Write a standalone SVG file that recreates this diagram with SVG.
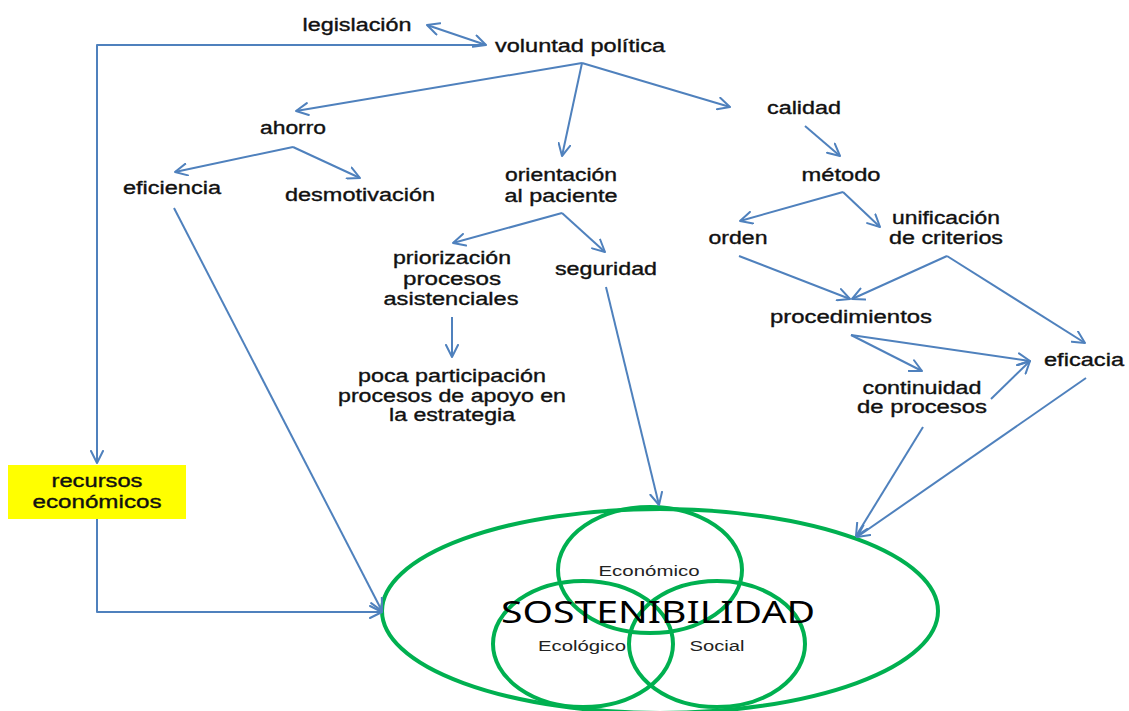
<svg xmlns="http://www.w3.org/2000/svg" width="1129" height="711" viewBox="0 0 1129 711">
  <style>
    .lbl { font-family: "Liberation Sans", Arial, sans-serif; font-size: 18px; fill: #111; stroke: #111; stroke-width: 0.35; text-anchor: middle; }
    .sub { font-family: "Liberation Sans", Arial, sans-serif; font-size: 14px; fill: #222; text-anchor: middle; }
    .big { font-family: "Noto Sans", "Open Sans", sans-serif; font-size: 30px; fill: #000; text-anchor: middle; }
    .edge { fill: none; stroke: #4F81BD; stroke-width: 2; stroke-linejoin: round; marker-end: url(#arr); }
    .ring { fill: none; stroke: #00B050; stroke-width: 4; }
  </style>
  <defs>
    <marker id="arr" viewBox="0 0 14 14" markerWidth="14" markerHeight="14" markerUnits="userSpaceOnUse" refX="13" refY="7" orient="auto-start-reverse">
      <path d="M1,1 L13,7 L1,13" fill="none" stroke="#4F81BD" stroke-width="2" stroke-linecap="round" stroke-linejoin="round"/>
    </marker>
  </defs>
  <rect width="1129" height="711" fill="#fff"/>

  <!-- sustainability rings -->
  <g id="sostenibilidad">
    <ellipse class="ring" cx="660" cy="611" rx="278" ry="102"/>
    <ellipse class="ring" cx="650" cy="570" rx="92" ry="63"/>
    <ellipse class="ring" cx="583" cy="644" rx="90" ry="63"/>
    <ellipse class="ring" cx="717" cy="644" rx="88" ry="63"/>
    <text class="sub" x="649" y="576" textLength="101" lengthAdjust="spacingAndGlyphs">Económico</text>
    <text class="big" x="658" y="623" textLength="314" lengthAdjust="spacingAndGlyphs">SOSTENIBILIDAD</text>
    <text class="sub" x="582" y="651" textLength="88" lengthAdjust="spacingAndGlyphs">Ecológico</text>
    <text class="sub" x="717" y="651" textLength="55" lengthAdjust="spacingAndGlyphs">Social</text>
  </g>

  <!-- connectors -->
  <g id="connectors">
    <path class="edge" d="M427,25 L486,45" marker-start="url(#arr)"/>
    <path class="edge" d="M486,45 L97,45 L97,463"/>
    <path class="edge" d="M97,519 L97,612 L382,612"/>
    <path class="edge" d="M174,208 L382,611"/>
    <path class="edge" d="M582,63 L296,111"/>
    <path class="edge" d="M582,63 L562,156"/>
    <path class="edge" d="M582,63 L730,107"/>
    <path class="edge" d="M293,147 L175,172"/>
    <path class="edge" d="M293,147 L360,178"/>
    <path class="edge" d="M805,126 L840,156"/>
    <path class="edge" d="M843,192 L740,221"/>
    <path class="edge" d="M843,192 L880,227"/>
    <path class="edge" d="M562,213 L453,243"/>
    <path class="edge" d="M562,213 L605,252"/>
    <path class="edge" d="M452,317 L452,357"/>
    <path class="edge" d="M606,287 L659,505"/>
    <path class="edge" d="M739,256 L850,299"/>
    <path class="edge" d="M947,256 L852,299"/>
    <path class="edge" d="M947,256 L1085,343"/>
    <path class="edge" d="M851,335 L922,371"/>
    <path class="edge" d="M851,335 L1030,361"/>
    <path class="edge" d="M991,399 L1030,361"/>
    <path class="edge" d="M923,427 L856,536"/>
    <path class="edge" d="M1086,378 L857,537"/>
  </g>

  <!-- concept nodes -->
  <g id="legislacion"><text class="lbl" x="357" y="31" textLength="109" lengthAdjust="spacingAndGlyphs">legislación</text></g>
  <g id="voluntad"><text class="lbl" x="580" y="52" textLength="170" lengthAdjust="spacingAndGlyphs">voluntad política</text></g>
  <g id="ahorro"><text class="lbl" x="293" y="134" textLength="66" lengthAdjust="spacingAndGlyphs">ahorro</text></g>
  <g id="eficiencia"><text class="lbl" x="172" y="194" textLength="98" lengthAdjust="spacingAndGlyphs">eficiencia</text></g>
  <g id="desmotivacion"><text class="lbl" x="360" y="201" textLength="150" lengthAdjust="spacingAndGlyphs">desmotivación</text></g>
  <g id="orientacion">
    <text class="lbl" x="561" y="181" textLength="112" lengthAdjust="spacingAndGlyphs">orientación</text>
    <text class="lbl" x="561" y="202" textLength="113" lengthAdjust="spacingAndGlyphs">al paciente</text>
  </g>
  <g id="priorizacion">
    <text class="lbl" x="452" y="264" textLength="118" lengthAdjust="spacingAndGlyphs">priorización</text>
    <text class="lbl" x="452" y="285" textLength="98" lengthAdjust="spacingAndGlyphs">procesos</text>
    <text class="lbl" x="451" y="305" textLength="135" lengthAdjust="spacingAndGlyphs">asistenciales</text>
  </g>
  <g id="seguridad"><text class="lbl" x="606" y="275" textLength="102" lengthAdjust="spacingAndGlyphs">seguridad</text></g>
  <g id="poca-participacion">
    <text class="lbl" x="452" y="382" textLength="188" lengthAdjust="spacingAndGlyphs">poca participación</text>
    <text class="lbl" x="452" y="402" textLength="228" lengthAdjust="spacingAndGlyphs">procesos de apoyo en</text>
    <text class="lbl" x="452" y="421" textLength="126" lengthAdjust="spacingAndGlyphs">la estrategia</text>
  </g>
  <g id="calidad"><text class="lbl" x="804" y="114" textLength="74" lengthAdjust="spacingAndGlyphs">calidad</text></g>
  <g id="metodo"><text class="lbl" x="841" y="181" textLength="79" lengthAdjust="spacingAndGlyphs">método</text></g>
  <g id="orden"><text class="lbl" x="738" y="244" textLength="59" lengthAdjust="spacingAndGlyphs">orden</text></g>
  <g id="unificacion">
    <text class="lbl" x="946" y="224" textLength="108" lengthAdjust="spacingAndGlyphs">unificación</text>
    <text class="lbl" x="946" y="244" textLength="114" lengthAdjust="spacingAndGlyphs">de criterios</text>
  </g>
  <g id="procedimientos"><text class="lbl" x="851" y="323" textLength="162" lengthAdjust="spacingAndGlyphs">procedimientos</text></g>
  <g id="eficacia"><text class="lbl" x="1084" y="366" textLength="80" lengthAdjust="spacingAndGlyphs">eficacia</text></g>
  <g id="continuidad">
    <text class="lbl" x="922" y="394" textLength="119" lengthAdjust="spacingAndGlyphs">continuidad</text>
    <text class="lbl" x="922" y="413" textLength="130" lengthAdjust="spacingAndGlyphs">de procesos</text>
  </g>
  <g id="recursos">
    <rect x="8" y="465" width="178" height="54" fill="#FFFF00"/>
    <text class="lbl" x="97" y="487" textLength="91" lengthAdjust="spacingAndGlyphs">recursos</text>
    <text class="lbl" x="97" y="508" textLength="129" lengthAdjust="spacingAndGlyphs">económicos</text>
  </g>
</svg>
